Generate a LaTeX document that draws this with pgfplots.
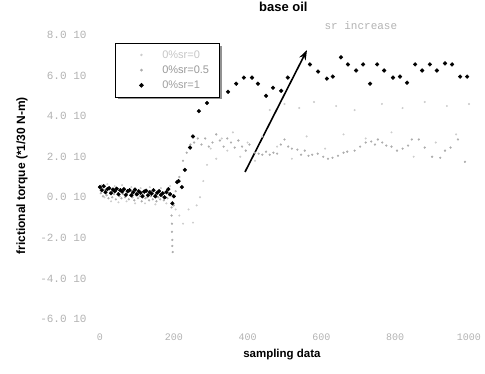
\documentclass[border=0pt]{standalone}
\usepackage{pgfplots}
\pgfplotsset{compat=1.18}
\usepackage{fontspec}
\setmainfont{Liberation Sans}
\newfontfamily\monof{Liberation Mono}
\usetikzlibrary{arrows.meta,shadows}
\begin{document}
\begin{tikzpicture}
\path[use as bounding box] (-100pt,-54pt) rectangle (385pt,319pt);
\begin{axis}[
  scale only axis, width=369pt, height=284pt,
  xmin=0, xmax=1000, ymin=-6, ymax=8,
  clip=false,
  axis line style={draw=none}, tick style={draw=none},
  xtick={0,200,400,600,800,1000},
  xticklabels={0,200,400,600,800,1000},
  ytick={-6,-4,-2,0,2,4,6,8},
  yticklabels={{-6.0 10},{-4.0 10},{-2.0 10},{0.0 10},{2.0 10},{4.0 10},{6.0 10},{8.0 10}},
  xticklabel style={font=\monof\fontsize{10}{12}\selectfont, text=gray!60, yshift=-11pt},
  yticklabel style={font=\monof\fontsize{11}{13}\selectfont, text=gray!60, xshift=-10pt},
  title={base oil},
  title style={font=\bfseries\fontsize{13}{15}\selectfont, at={(axis description cs:0.497,1)}, anchor=center, yshift=22pt},
  xlabel={sampling data},
  xlabel style={font=\bfseries\fontsize{11.5}{13}\selectfont, at={(axis description cs:0.493,0)}, anchor=center, yshift=-36pt},
  ylabel={frictional torque (*1/30 N-m)},
  ylabel style={font=\bfseries\fontsize{12}{14}\selectfont, at={(axis description cs:-0.2114,0.504)}, anchor=center},
  legend style={at={(0.041,0.972)}, anchor=north west, draw=black, line width=0.8pt, fill=white,
    drop shadow={shadow xshift=2.5pt, shadow yshift=-2.5pt, fill=black!85},
    font=\fontsize{11}{13}\selectfont, inner xsep=8pt, inner ysep=5pt, column sep=8pt, row sep=2pt},
  legend cell align=left,
  legend image code/.code={\path (0pt,0pt) (28pt,0pt); \draw[#1] plot coordinates {(17.5pt,0pt)};},
]
\addplot[only marks, mark=*, mark size=0.8pt, color=gray!40] coordinates {
(4,0.6) (12,0.0) (20,0.65) (30,-0.2) (40,0.55) (50,-0.25) (60,0.6) (72,-0.2) (85,0.5) (95,-0.3)
(110,0.45) (122,-0.3) (135,0.5) (150,-0.35) (165,0.45) (180,-0.3) (190,0.55)
(205,-0.6) (215,-0.9) (225,-1.3) (240,-0.6) (252,-1.25) (262,-0.4) (271,0.0) (280,0.8) (290,1.6)
(300,2.4) (315,1.9) (330,2.9) (345,2.3) (360,3.2) (380,2.0) (400,2.7) (420,1.8) (440,3.0) (460,4.3)
(480,2.5) (500,4.6) (520,1.9) (540,4.4) (560,3.0) (580,4.7) (610,2.4) (640,4.5) (660,3.1) (690,4.3)
(720,2.9) (764,4.6) (790,3.2) (820,4.4) (850,2.0) (880,4.7) (910,2.7) (940,4.5) (965,3.1) (1000,4.6)
};
\addlegendentry{\textcolor{gray!45}{0\%sr=0}}
\addplot[only marks, mark=*, mark size=0.9pt, color=gray!65] coordinates {
(2,0.20) (8,0.05) (13,0.35) (18,0.10) (23,-0.05) (28,0.25) (33,0.00) (38,0.15) (43,-0.10) (48,0.20)
(53,0.05) (58,-0.05) (63,0.15) (68,0.00) (73,0.20) (78,-0.10) (83,0.10) (88,0.00) (93,-0.15) (98,0.10)
(103,-0.05) (108,0.05) (113,-0.20) (118,0.10) (123,-0.05) (128,0.00) (133,-0.15) (138,0.05) (143,-0.10)
(148,0.10) (153,-0.20) (158,0.00) (163,-0.10) (168,0.05) (173,-0.15) (178,0.00) (183,-0.05) (188,0.10)
(194,-0.5) (194,-0.9) (195,-1.3) (195,-1.7) (196,-2.1) (196,-2.4) (197,-2.7) (200,-0.4)
(205,0.3) (215,1.0) (225,1.8) (235,2.2) (245,2.6) (255,2.7) (265,2.9) (275,2.6) (285,2.9) (295,2.5)
(305,2.7) (315,3.1) (325,2.8) (335,2.5) (345,2.9) (355,2.7) (365,2.45) (375,2.8) (385,2.5) (395,2.3)
(405,2.6) (420,2.2) (430,2.15) (440,2.1) (450,2.25) (460,2.1) (470,2.2) (480,2.15) (490,2.6) (500,2.85)
(510,2.5) (520,2.4) (535,2.35) (545,2.1) (555,2.3) (565,2.05) (575,2.1) (590,2.15) (605,2.0) (618,1.9)
(630,1.95) (645,2.05) (660,2.2) (670,2.25) (690,2.3) (705,2.5) (720,2.7) (735,2.75) (745,2.6) (753,2.85)
(765,2.7) (776,2.55) (790,2.5) (805,2.3) (820,2.4) (835,2.55) (845,2.85) (864,2.85) (880,2.45) (900,2.0)
(922,1.95) (935,2.3) (950,2.45) (970,2.85) (989,1.75)
};
\addlegendentry{\textcolor{gray!80}{0\%sr=0.5}}
\addplot[only marks, mark=*, mark size=1.9pt, color=black] coordinates {
(0,0.50) (5,0.35) (10,0.55) (15,0.25) (20,0.40) (25,0.45) (30,0.20) (35,0.38) (40,0.30) (45,0.42)
(50,0.15) (55,0.35) (60,0.28) (65,0.40) (70,0.12) (75,0.30) (80,0.35) (85,0.10) (90,0.25) (95,0.38)
(100,0.15) (105,0.30) (110,0.22) (115,0.05) (120,0.28) (125,0.32) (130,0.10) (135,0.25) (140,0.18)
(145,0.35) (150,0.05) (155,0.22) (160,0.30) (165,0.12) (170,0.20) (175,0.00) (180,0.25) (185,0.40)
(190,0.15) (196,-0.30) (200,0.05) (209,0.75) (213,0.80) (222,0.50) (230,1.35) (244,2.45) (252,3.00)
(268,4.25) (290,4.65) (347,5.2) (369,5.6) (390,5.9) (412,5.9) (428,5.6) (450,5.0) (469,5.4) (491,5.25)
(509,5.9) (569,6.55) (591,6.2) (615,5.85) (631,5.95) (653,6.9) (672,6.55) (694,6.25) (713,6.55)
(732,5.6) (751,6.55) (770,6.25) (794,5.9) (813,5.95) (832,5.65) (854,6.55) (873,6.25) (894,6.55)
(913,6.25) (935,6.6) (954,6.55) (976,5.95) (995,5.95)
};
\addlegendentry{\textcolor{gray!75}{0\%sr=1}}
\draw[line width=1.6pt, -{Stealth[length=10pt,width=7pt]}] (axis cs:393,1.25) -- (axis cs:561,7.26);
\node[font=\monof\fontsize{11}{13}\selectfont, text=gray!60] at (axis cs:707,8.49) {sr increase};
\end{axis}
\end{tikzpicture}
\end{document}
